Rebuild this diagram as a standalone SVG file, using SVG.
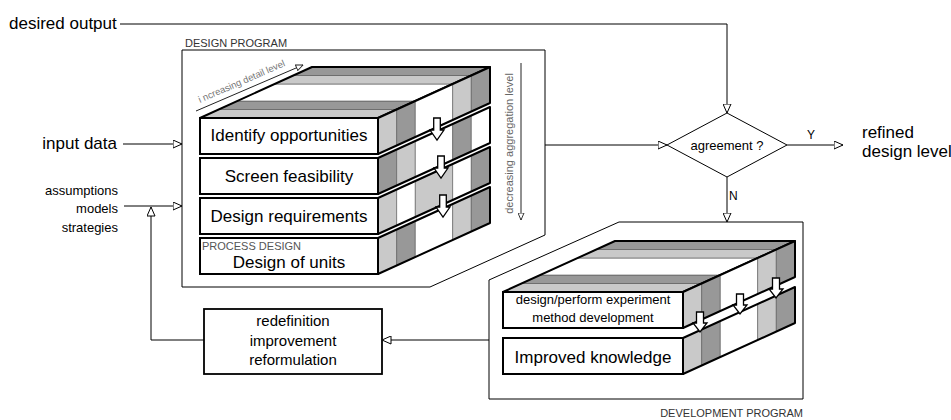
<svg xmlns="http://www.w3.org/2000/svg" width="951" height="420" viewBox="0 0 951 420">
<defs>
<style>
text{font-family:"Liberation Sans",Arial,Helvetica,sans-serif;fill:#000}
.big{font-size:17px}
.mid{font-size:15px}
.sm{font-size:13px}
.yn{font-size:12px}
.cap{font-size:11px;fill:#333}
.hint{font-size:9.5px;fill:#777}
.hint2{font-size:11px;fill:#666}
.frame{fill:none;stroke:#000;stroke-width:1}
.conn{fill:none;stroke:#000;stroke-width:1;marker-end:url(#tri)}
.guide{fill:none;stroke:#222;stroke-width:1;marker-end:url(#tri-s)}
.box{fill:#fff;stroke:#000;stroke-width:2}
.edge{fill:none;stroke:#000;stroke-width:2;stroke-linejoin:round}
.band{stroke:#555;stroke-width:0.6}
.lt{fill:#c9c9c9}.dk{fill:#989898}.wh{fill:#fff}
.flow{fill:#fff;stroke:#000;stroke-width:1.3}
</style>
<marker id="tri" viewBox="0 0 10 9" refX="9.5" refY="4.5" markerWidth="10" markerHeight="9" markerUnits="userSpaceOnUse" orient="auto">
<path d="M0.5,0.5 L9.5,4.5 L0.5,8.5 Z" fill="#fff" stroke="#000" stroke-width="1"/>
</marker>
<marker id="tri-s" viewBox="0 0 8 7" refX="7.5" refY="3.5" markerWidth="8" markerHeight="7" markerUnits="userSpaceOnUse" orient="auto">
<path d="M0.5,0.5 L7.5,3.5 L0.5,6.5 Z" fill="#fff" stroke="#222" stroke-width="0.9"/>
</marker>
<!-- side-face bands of one slab; origin = front top right corner, depth (112,-51), height 36 -->
<polygon id="bA" points="0,0 18.67,-8.5 18.67,27.5 0,36"/>
<polygon id="bB" points="18.67,-8.5 37.33,-17 37.33,19 18.67,27.5"/>
<polygon id="bC" points="37.33,-17 74.67,-34 74.67,2 37.33,19"/>
<polygon id="bD" points="74.67,-34 93.33,-42.5 93.33,-6.5 74.67,2"/>
<polygon id="bE" points="93.33,-42.5 112,-51 112,-15 93.33,-6.5"/>
<polygon id="side" points="0,0 112,-51 112,-15 0,36"/>
<!-- downward flow arrow crossing a slab gap -->
<path id="down" d="M-3.3,-11 H3.3 V1 H7 L0,11 L-7,1 H-3.3 Z"/>
<path id="down-s" d="M-3.5,-10 H3.5 V1 H7 L0,10 L-7,1 H-3.5 Z"/>
</defs>

<rect width="951" height="420" fill="#fff"/>

<!-- outer frames -->
<g id="design-program">
<path class="frame" d="M182,50 H545 V235 L430,287 H182 Z"/>
<text class="cap" x="185" y="47" font-size="11.5">DESIGN PROGRAM</text>
</g>
<g id="development-program">
<path class="frame" d="M489,280 L619,222 H803 V399 H489 Z"/>
<text class="cap" x="803" y="417" text-anchor="end" font-size="10">DEVELOPMENT PROGRAM</text>
</g>

<!-- design stack -->
<g id="design-stack">
<g id="design-top" transform="translate(378,118)">
<polygon class="band lt" points="-178,0 0,0 18.67,-8.5 -159.33,-8.5"/>
<polygon class="band dk" points="-159.33,-8.5 18.67,-8.5 37.33,-17 -140.67,-17"/>
<polygon class="band wh" points="-140.67,-17 37.33,-17 74.67,-34 -103.33,-34"/>
<polygon class="band lt" points="-103.33,-34 74.67,-34 93.33,-42.5 -84.67,-42.5"/>
<polygon class="band dk" points="-84.67,-42.5 93.33,-42.5 112,-51 -66,-51"/>
<polygon class="edge" points="-178,0 0,0 112,-51 -66,-51"/>
</g>
<g id="identify" transform="translate(378,118)">
<use href="#bA" class="band lt"/><use href="#bB" class="band dk"/><use href="#bC" class="band wh"/><use href="#bD" class="band lt"/><use href="#bE" class="band dk"/>
<use href="#side" class="edge"/>
<rect class="box" x="-178" y="0" width="178" height="36"/>
<text class="big" x="-89" y="23" text-anchor="middle">Identify opportunities</text>
</g>
<g id="screen" transform="translate(378,158)">
<use href="#bA" class="band dk"/><use href="#bB" class="band lt"/><use href="#bC" class="band wh"/><use href="#bD" class="band dk"/><use href="#bE" class="band wh"/>
<use href="#side" class="edge"/>
<rect class="box" x="-178" y="0" width="178" height="36"/>
<text class="big" x="-89" y="24" text-anchor="middle">Screen feasibility</text>
</g>
<g id="requirements" transform="translate(378,198)">
<use href="#bA" class="band lt"/><use href="#bB" class="band wh"/><use href="#bC" class="band lt"/><use href="#bD" class="band wh"/><use href="#bE" class="band dk"/>
<use href="#side" class="edge"/>
<rect class="box" x="-178" y="0" width="178" height="36"/>
<text class="big" x="-89" y="24" text-anchor="middle">Design requirements</text>
</g>
<g id="units" transform="translate(378,238)">
<use href="#bA" class="band lt"/><use href="#bB" class="band dk"/><use href="#bC" class="band wh"/><use href="#bD" class="band lt"/><use href="#bE" class="band dk"/>
<use href="#side" class="edge"/>
<rect class="box" x="-178" y="0" width="178" height="36"/>
<text class="cap" x="-176" y="12" font-size="11.4" fill="#555" style="fill:#555">PROCESS DESIGN</text>
<text class="big" x="-89" y="30" text-anchor="middle">Design of units</text>
</g>
<g id="design-flow">
<use href="#down" class="flow" x="437" y="129"/>
<use href="#down" class="flow" x="441" y="167"/>
<use href="#down" class="flow" x="443" y="206"/>
</g>
<g id="design-axes">
<line class="guide" x1="196" y1="111" x2="303" y2="65"/>
<text class="hint" transform="translate(200,103) rotate(-23.5)">i ncreasing detail level</text>
<line class="guide" x1="521" y1="63" x2="521" y2="220"/>
<text class="hint2" text-anchor="middle" transform="translate(513,143.5) rotate(-90)">decreasing aggregation level</text>
</g>
</g>

<!-- development stack -->
<g id="development-stack">
<g id="development-top" transform="translate(683,292)">
<polygon class="band lt" points="-180,0 0,0 18.67,-8.5 -161.33,-8.5"/>
<polygon class="band dk" points="-161.33,-8.5 18.67,-8.5 37.33,-17 -142.67,-17"/>
<polygon class="band wh" points="-142.67,-17 37.33,-17 74.67,-34 -105.33,-34"/>
<polygon class="band lt" points="-105.33,-34 74.67,-34 93.33,-42.5 -86.67,-42.5"/>
<polygon class="band dk" points="-86.67,-42.5 93.33,-42.5 112,-51 -68,-51"/>
<polygon class="edge" points="-180,0 0,0 112,-51 -68,-51"/>
</g>
<g id="experiment" transform="translate(683,292)">
<use href="#bA" class="band lt"/><use href="#bB" class="band dk"/><use href="#bC" class="band wh"/><use href="#bD" class="band lt"/><use href="#bE" class="band dk"/>
<use href="#side" class="edge"/>
<rect class="box" x="-180" y="0" width="180" height="36"/>
<text class="sm" x="-90" y="12" text-anchor="middle">design/perform experiment</text>
<text class="sm" x="-90" y="30" text-anchor="middle">method development</text>
</g>
<g id="knowledge" transform="translate(683,338)">
<use href="#bA" class="band lt"/><use href="#bB" class="band dk"/><use href="#bC" class="band wh"/><use href="#bD" class="band lt"/><use href="#bE" class="band dk"/>
<use href="#side" class="edge"/>
<rect class="box" x="-180" y="0" width="180" height="36"/>
<text class="big" x="-90" y="25" text-anchor="middle">Improved knowledge</text>
</g>
<g id="development-flow">
<use href="#down-s" class="flow" x="700" y="322"/>
<use href="#down-s" class="flow" x="740" y="304"/>
<use href="#down-s" class="flow" x="776" y="288"/>
</g>
</g>

<!-- decision -->
<g id="agreement">
<polygon points="727,113 787,145 727,177 667,145" fill="#fff" stroke="#000" stroke-width="1"/>
<text class="sm" x="727" y="150" text-anchor="middle">agreement ?</text>
</g>

<!-- feedback box -->
<g id="redefinition">
<rect x="204" y="309" width="178" height="65" fill="#fff" stroke="#000" stroke-width="1.8"/>
<text class="mid" x="293" y="326" text-anchor="middle">redefinition</text>
<text class="mid" x="293" y="346" text-anchor="middle">improvement</text>
<text class="mid" x="293" y="365" text-anchor="middle">reformulation</text>
</g>

<!-- free labels -->
<g id="labels">
<text class="big" x="9" y="29">desired output</text>
<text class="big" x="117" y="149" text-anchor="end">input data</text>
<text class="sm" x="118" y="195" text-anchor="end" font-size="13.5">assumptions</text>
<text class="sm" x="118" y="213" text-anchor="end">models</text>
<text class="sm" x="118" y="232" text-anchor="end">strategies</text>
<text class="big" x="862" y="138">refined</text>
<text class="big" x="862" y="157">design level</text>
<text class="yn" x="811" y="139" text-anchor="middle">Y</text>
<text class="yn" x="729" y="200">N</text>
</g>

<!-- connectors -->
<g id="connectors">
<path class="conn" d="M120,24 H727 V113"/>
<path class="conn" d="M123,144 H182"/>
<path class="conn" d="M124,206 H182"/>
<path class="conn" d="M204,340 H151 V207"/>
<path class="conn" d="M545,145 H667"/>
<path class="conn" d="M787,145 H843"/>
<path class="conn" d="M727,177 V222"/>
<path class="conn" d="M489,340 H382"/>
</g>
</svg>
